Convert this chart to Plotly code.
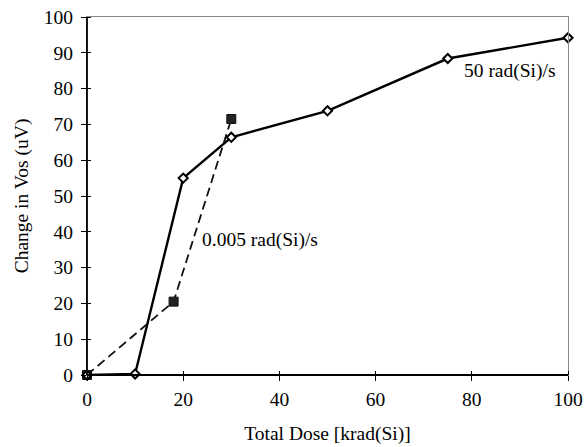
import plotly.graph_objects as go

# Change in input offset voltage vs. total ionizing dose
dose_high = [0, 10, 20, 30, 50, 75, 100]
vos_high = [0, 0.3, 55, 66.4, 73.8, 88.4, 94.2]

dose_low = [0, 18, 30]
vos_low = [0, 20.5, 71.5]

label_high = "50 rad(Si)/s"
label_low = "0.005 rad(Si)/s"

x_ticks = [0, 20, 40, 60, 80, 100]
y_ticks = [0, 10, 20, 30, 40, 50, 60, 70, 80, 90, 100]

FONT = "Liberation Serif"
FS = 19.5

fig = go.Figure()

fig.add_trace(go.Scatter(
    x=dose_low, y=vos_low, mode="lines+markers",
    line=dict(color="#111111", width=1.8, dash="9px,5px"),
    marker=dict(symbol="square", size=9, color="#222222",
                line=dict(color="#111111", width=1)),
    cliponaxis=False, showlegend=False,
))

fig.add_trace(go.Scatter(
    x=dose_high, y=vos_high, mode="lines+markers",
    line=dict(color="#000000", width=2.4),
    marker=dict(symbol="diamond", size=7, color="white",
                line=dict(color="#000000", width=2)),
    cliponaxis=False, showlegend=False,
))

fig.add_annotation(x=77.9, y=85, text=label_high, showarrow=False,
                   xanchor="left", yanchor="middle",
                   font=dict(family=FONT, size=FS, color="black"))
fig.add_annotation(x=23.4, y=37.7, text=label_low, showarrow=False,
                   xanchor="left", yanchor="middle",
                   font=dict(family=FONT, size=FS, color="black"))

# heavy black left and bottom axis lines over the grey mirrored frame
fig.add_shape(type="line", xref="paper", yref="paper", x0=0, x1=1, y0=0, y1=0,
              line=dict(color="black", width=1.8), layer="above")
fig.add_shape(type="line", xref="paper", yref="paper", x0=0, x1=0, y0=0, y1=1,
              line=dict(color="black", width=1.8), layer="above")

axis_common = dict(range=[0, 100], showgrid=False, zeroline=False,
                   automargin=False, showline=True, mirror=True,
                   linecolor="#8a8a8a", linewidth=1)

fig.update_layout(
    width=586, height=447,
    margin=dict(l=87, r=18, t=17, b=72),
    paper_bgcolor="white", plot_bgcolor="white",
    font=dict(family=FONT, size=FS, color="black"),
    xaxis=dict(
        **axis_common, tickvals=x_ticks, ticktext=[str(v) for v in x_ticks],
        ticks="outside", ticklen=5, tickwidth=1.2, tickcolor="black",
        tickfont=dict(family=FONT, size=FS), ticklabelstandoff=2,
        title=dict(text="Total Dose [krad(Si)]", standoff=16,
                   font=dict(family=FONT, size=FS)),
        # inner half of the crossing tick marks
        minor=dict(tickvals=x_ticks, ticks="inside", ticklen=4,
                   tickwidth=1.2, tickcolor="black", showgrid=False),
    ),
    yaxis=dict(
        **axis_common, tickvals=y_ticks, ticktext=[str(v) for v in y_ticks],
        ticks="outside", ticklen=5, tickwidth=1.2, tickcolor="black",
        tickfont=dict(family=FONT, size=FS), ticklabelstandoff=4,
        title=dict(text="Change in Vos (uV)", standoff=10,
                   font=dict(family=FONT, size=FS)),
        minor=dict(tickvals=y_ticks, ticks="inside", ticklen=4,
                   tickwidth=1.2, tickcolor="black", showgrid=False),
    ),
)

fig.write_html("out.html")
